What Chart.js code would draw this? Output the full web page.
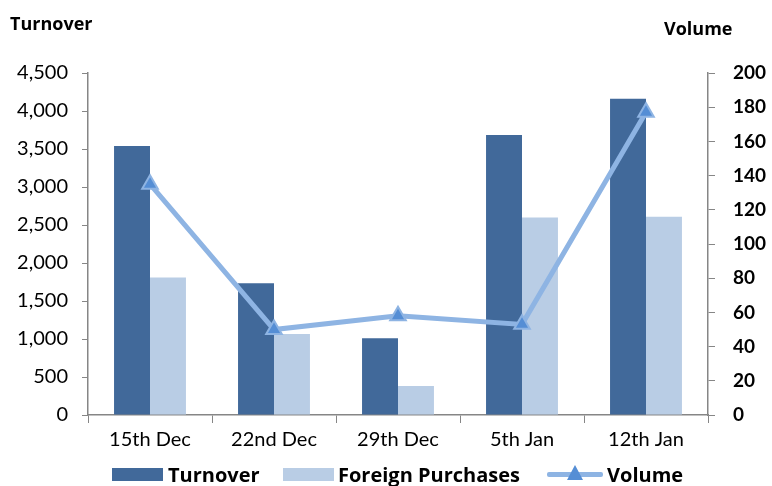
<!DOCTYPE html>
<html>
<head>
<meta charset="utf-8">
<script src="https://cdn.jsdelivr.net/npm/chart.js@4"></script>
<style>
  body { margin: 0; background: #fff; font-family: "Open Sans", Lato, sans-serif; }
  #wrap { position: relative; width: 772px; height: 486px; }
  .axis-title { position: absolute; font-weight: bold; font-size: 18px; color: #000; line-height: 1; }
  .lg { position: absolute; top: 462px; height: 26px; display: flex; align-items: center; font-weight: bold; font-size: 20px; color: #000; line-height: 1; white-space: nowrap; }
  .box { position: absolute; top: 468px; width: 51px; height: 13px; }
  .lineKey { position: absolute; left: 547px; top: 464px; width: 56px; height: 20px; }
  .lineKey .bar { position: absolute; left: 0; top: 8px; width: 56px; height: 5px; background: #8EB4E3; border-radius: 2px; }
  .lineKey .tri { position: absolute; left: 20px; top: 1px; width: 0; height: 0; border-left: 8px solid transparent; border-right: 8px solid transparent; border-bottom: 15px solid #558ED5; }
</style>
</head>
<body>
<div id="wrap">
  <canvas id="chart" width="772" height="486"></canvas>
  <div class="axis-title" style="left:10px; top:14px;">Turnover</div>
  <div class="axis-title" style="left:664px; top:19px;">Volume</div>
  <span class="box" style="left:112px; background:#41699A"></span>
  <div class="lg" style="left:168px;">Turnover</div>
  <span class="box" style="left:283px; background:#B9CDE5"></span>
  <div class="lg" style="left:338px;">Foreign Purchases</div>
  <span class="lineKey"><span class="bar"></span><span class="tri"></span></span>
  <div class="lg" style="left:607px;">Volume</div>
</div>
<script>
var weeks = ['15th Dec', '22nd Dec', '29th Dec', '5th Jan', '12th Jan'];
var turnover = [3540, 1735, 1010, 3685, 4160];
var foreignPurchases = [1810, 1065, 380, 2600, 2610];
var volume = [135, 50, 58, 53, 177];

var axisColor = '#868686';

new Chart(document.getElementById('chart').getContext('2d'), {
    type: 'bar',
    data: {
        labels: weeks,
        datasets: [{
            label: 'Volume',
            type: 'line',
            data: volume,
            yAxisID: 'y1',
            borderColor: '#8EB4E3',
            borderWidth: 5,
            tension: 0,
            pointStyle: 'triangle',
            pointRadius: 9,
            pointHoverRadius: 9,
            pointBackgroundColor: '#558ED5',
            pointBorderColor: '#8EB4E3',
            pointBorderWidth: 2,
            order: 0
        }, {
            label: 'Turnover',
            data: turnover,
            yAxisID: 'y',
            backgroundColor: '#41699A',
            barPercentage: 1,
            categoryPercentage: 0.58,
            order: 1
        }, {
            label: 'Foreign Purchases',
            data: foreignPurchases,
            yAxisID: 'y',
            backgroundColor: '#B9CDE5',
            barPercentage: 1,
            categoryPercentage: 0.58,
            order: 1
        }]
    },
    options: {
        responsive: false,
        animation: false,
        layout: { padding: { top: 73, bottom: 30, left: 0, right: 0 } },
        plugins: {
            legend: { display: false },
            tooltip: { enabled: false }
        },
        scales: {
            x: {
                grid: { display: true, drawOnChartArea: false, color: axisColor, tickLength: 8, offset: true },
                border: { color: axisColor, width: 1.5 },
                ticks: { color: '#000', font: { family: 'Lato', size: 20 }, padding: 5 },
                afterFit: function(scale) { scale.height = 41; }
            },
            y: {
                position: 'left',
                min: 0,
                max: 4500,
                grid: { display: true, drawOnChartArea: false, color: axisColor, tickLength: 6 },
                border: { color: axisColor, width: 1.5 },
                ticks: {
                    stepSize: 500,
                    color: '#000',
                    font: { family: 'Lato', size: 20 },
                    padding: 14,
                    callback: function(v) { return v.toLocaleString('en-US'); }
                },
                afterFit: function(scale) { scale.width = 88; }
            },
            y1: {
                position: 'right',
                min: 0,
                max: 200,
                grid: { display: true, drawOnChartArea: false, color: axisColor, tickLength: 7 },
                border: { color: axisColor, width: 1.5 },
                ticks: { stepSize: 20, color: '#000', font: { family: 'Lato', size: 19, weight: 'bold' }, padding: 18 },
                afterFit: function(scale) { scale.width = 64; }
            }
        }
    }
});
</script>
</body>
</html>
